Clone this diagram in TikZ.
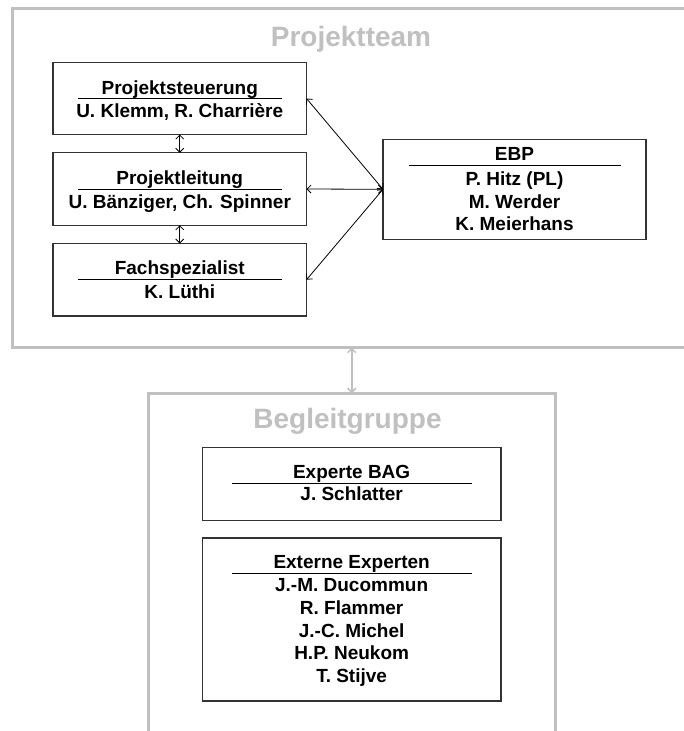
\documentclass[tikz,border=0pt]{standalone}
\usepackage{fontspec}
\setmainfont{Liberation Sans}
\usetikzlibrary{arrows.meta,calc}
\definecolor{framegray}{HTML}{C0C0C0}
\definecolor{boxline}{HTML}{333333}
\begin{document}
\begin{tikzpicture}[x=1pt,y=-1pt,
  frame/.style={draw=framegray,line width=3pt,inner sep=0pt,outer sep=0pt},
  box/.style={draw=boxline,line width=1.3pt,inner sep=0pt,outer sep=0pt},
  grouptitle/.style={text=framegray,font=\bfseries\fontsize{28}{32}\selectfont,inner sep=0pt,anchor=base},
  txt/.style={font=\bfseries\fontsize{19}{22.5}\selectfont,align=center,inner sep=0pt,anchor=base},
  sepline/.style={line width=0.9pt},
  conn/.style={line width=0.8pt,{Straight Barb[length=4pt,width=8pt]}-{Straight Barb[length=4pt,width=8pt]}},
  gconn/.style={conn,draw=framegray,line width=1.5pt}]
\useasboundingbox (0,0) rectangle (684,731);
\fill[white] (0,0) rectangle (684,731);
% group frames
\node[frame,minimum width=690pt,minimum height=339pt] (team) at (357,178) {};
\node[grouptitle] (teamtitle) at (351,46) {Projektteam};
\node[frame,minimum width=407.5pt,minimum height=380pt] (begl) at (351.75,583.3) {};
\node[grouptitle] (begltitle) at (347.5,428.5) {Begleitgruppe};
% boxes
\node[box,minimum width=253.5pt,minimum height=72pt] (b1) at (179.75,98.5) {};
\node[box,minimum width=253.5pt,minimum height=72.5pt] (b2) at (179.75,189) {};
\node[box,minimum width=253.5pt,minimum height=72.5pt] (b3) at (179.75,279.75) {};
\node[box,minimum width=263pt,minimum height=100pt] (ebp) at (514.5,189.3) {};
\node[box,minimum width=298.7pt,minimum height=73pt] (bag) at (351.65,483.8) {};
\node[box,minimum width=298.7pt,minimum height=163pt] (ext) at (351.65,619.5) {};
% texts (multi-line nodes: base anchor = baseline of last line)
\node[txt] (b1t) at (179.75,94.8) {Projektsteuerung};
\node[txt] (b1n) at (179.75,117.2) {U. Klemm, R. Charrière};
\node[txt] (b2t) at (179.75,184.8) {Projektleitung};
\node[txt] (b2n) at (179.75,208.2) {U. Bänziger, Ch. Spinner};
\node[txt] (b3t) at (179.75,274.8) {Fachspezialist};
\node[txt] (b3n) at (179.75,298.2) {K. Lüthi};
\node[txt] (ebpt) at (514.5,160.5) {EBP};
\node[txt] (ebpn) at (514.5,230.8) {P. Hitz (PL)\\M. Werder\\K. Meierhans};
\node[txt] (bagt) at (351.65,478.2) {Experte BAG};
\node[txt] (bagn) at (351.65,500.8) {J. Schlatter};
\node[txt] (extt) at (351.65,568.2) {Externe Experten};
\node[txt,font=\bfseries\fontsize{19}{22.75}\selectfont] (extn) at (351.65,682.5) {J.-M. Ducommun\\R. Flammer\\J.-C. Michel\\H.P. Neukom\\T. Stijve};
% separator lines
\draw[sepline] ($(b1.west)+(24.5,0)$) -- ($(b1.east)+(-24.5,0)$);
\draw[sepline] ($(b2.west)+(24.5,0)$) -- ($(b2.east)+(-24.5,0)$);
\draw[sepline] ($(b3.west)+(24.5,0)$) -- ($(b3.east)+(-24.5,0)$);
\draw[sepline] ($(ebp.north west)+(26,26.4)$) -- ($(ebp.north east)+(-25.3,26.4)$);
\draw[sepline] ($(bag.west)+(29.5,0)$) -- ($(bag.east)+(-29.5,0)$);
\draw[sepline] ($(ext.north west)+(29.5,35.3)$) -- ($(ext.north east)+(-29.5,35.3)$);
% connectors
\draw[conn] (b1.south) -- (b2.north);
\draw[conn] (b2.south) -- (b3.north);
\draw[conn] (ebp.west) -- (b1.east);
\draw[conn] (ebp.west) -- (b2.east);
\draw[conn] (ebp.west) -- (b3.east);
\draw[gconn] (begl.north) -- (begl.north |- team.south);
\end{tikzpicture}
\end{document}
